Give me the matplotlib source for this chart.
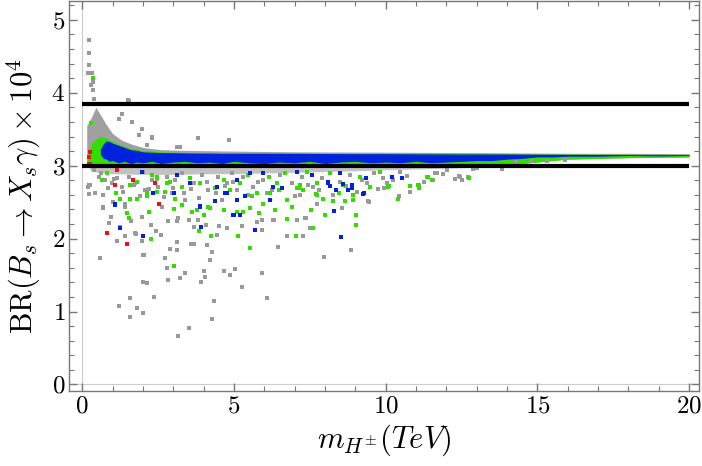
import numpy as np
import matplotlib
matplotlib.use('Agg')
import matplotlib.pyplot as plt

plt.rcParams['font.family'] = 'cmr10'
plt.rcParams['mathtext.fontset'] = 'cm'
plt.rcParams['axes.formatter.use_mathtext'] = True

# limits of BR(B_s -> X_s gamma) x 10^4
br_upper = 3.84
br_lower = 2.99

# dense band envelopes
band_x = [0.15, 0.3, 0.45, 0.6, 0.8, 1.0, 1.3, 1.6, 2.0, 2.6, 3.4, 5, 7, 10, 13, 14.5, 16, 18, 20]
gray_top = [3.55, 3.66, 3.80, 3.70, 3.56, 3.44, 3.35, 3.30, 3.25, 3.22, 3.21, 3.20, 3.19, 3.185, 3.18, 3.175, 3.17, 3.17, 3.165]
band_low = [3.0, 2.99, 2.99, 2.99, 2.99, 2.99, 2.99, 2.99, 2.99, 2.99, 2.99, 2.99, 2.99, 2.99, 3.0, 3.03, 3.09, 3.11, 3.12]
green_top = [3.05, 3.30, 3.36, 3.40, 3.38, 3.33, 3.28, 3.24, 3.21, 3.19, 3.18, 3.175, 3.17, 3.17, 3.165, 3.16, 3.16, 3.155, 3.155]

# blue band: top edge and ragged lower edge
blue_x = [0.6, 0.7, 0.8, 0.9, 1.0, 1.2, 1.4, 1.6, 1.8, 2.0, 2.3, 2.6, 3.0, 3.4, 3.8, 4.2, 4.6, 5.0, 5.5,
          6.0, 6.5, 7.0, 7.5, 8.0, 8.5, 9.0, 9.5, 10.0, 10.5, 11.0, 11.5, 12.0, 12.5, 13.0, 13.5, 14.0,
          14.5, 15.0, 15.5, 16.0, 17.0, 18.0, 19.0, 20.0]
blue_top = [3.22, 3.30, 3.34, 3.33, 3.31, 3.28, 3.25, 3.22, 3.21, 3.19, 3.185, 3.18, 3.178, 3.175, 3.173,
            3.172, 3.17, 3.17, 3.17, 3.17, 3.17, 3.17, 3.168, 3.167, 3.166, 3.165, 3.165, 3.165, 3.164,
            3.163, 3.162, 3.161, 3.16, 3.16, 3.16, 3.16, 3.158, 3.157, 3.156, 3.155, 3.153, 3.152, 3.151, 3.15]
blue_low = [3.16, 3.10, 3.09, 3.06, 3.07, 3.04, 3.06, 3.03, 3.05, 3.04, 3.06, 3.03, 3.05, 3.06, 3.04,
            3.05, 3.03, 3.06, 3.04, 3.03, 3.05, 3.04, 3.06, 3.03, 3.05, 3.06, 3.04, 3.05, 3.04, 3.06,
            3.04, 3.05, 3.06, 3.07, 3.07, 3.09, 3.10, 3.12, 3.12, 3.13, 3.13, 3.14, 3.135, 3.14]

strip_x = [0.25, 0.5, 1, 2, 3, 4, 5, 6, 7, 8, 9, 10, 11, 12, 13, 14]
strip_low = [2.94, 2.91, 2.89, 2.88, 2.88, 2.89, 2.89, 2.90, 2.91, 2.92, 2.93, 2.945, 2.955, 2.965, 2.98, 2.99]

# scattered points
gray_x = [0.58, 0.89, 1.20, 1.56, 1.59, 1.80, 1.99, 2.01, 2.12, 2.37, 1.99, 2.03, 1.14, 1.42, 1.76, 1.97,
          2.73, 2.79, 2.83, 2.89, 3.11, 3.12, 3.22, 3.38, 3.52, 3.17, 3.57, 3.68, 3.90, 4.02, 4.04, 4.10,
          4.21, 4.29, 4.29, 4.35, 4.67, 4.88, 5.03, 5.27, 5.93, 6.08, 6.46, 0.68, 1.03, 1.25, 1.61, 1.75,
          2.26, 2.42, 2.60, 2.83, 3.14, 3.51, 3.67, 3.80, 4.08, 4.44, 4.52, 4.77, 5.25, 5.75, 5.92, 6.32,
          6.74, 7.07, 1.42, 0.94, 0.70, 0.26, 0.40,
          7.97, 8.85, 7.27, 7.36, 8.56, 9.45, 9.93, 10.45, 10.80, 11.27, 11.63, 12.43, 12.51, 13.82, 7.18, 7.75,
          5.92, 6.30, 7.35, 7.51, 9.43, 10.04,
          0.23, 0.63, 0.76, 0.87, 0.98, 1.31, 1.53, 1.75, 2.02, 2.08, 2.30, 2.51, 2.79, 2.95, 3.06, 3.28,
          3.39, 3.67, 3.94, 4.16, 4.49, 4.77, 4.93, 4.60, 1.42, 2.62, 1.97, 3.17, 0.43, 1.14,
          4.98, 5.31, 5.64, 5.97, 6.25, 6.52, 6.91, 7.24, 7.62, 7.90, 8.50, 8.83, 9.21, 9.60, 9.92,
          0.21, 0.21, 0.21, 0.18, 0.32, 0.35, 0.29, 0.37, 0.40, 1.53, 1.31, 1.20, 1.64, 1.97, 2.30, 1.86,
          2.13, 3.12, 1.50, 2.30, 3.23, 4.85, 3.83,
          13.00, 12.89, 12.45, 12.72, 11.57, 11.68, 12.01, 10.47, 0.18, 0.24, 0.68,
          0.55, 0.85, 1.05, 1.35, 1.70, 1.90, 2.20, 2.45, 2.70, 3.00, 3.35, 3.60, 3.85, 4.10, 4.40, 4.70,
          5.10, 5.45, 5.80, 6.10, 6.60, 7.00, 7.45, 7.80, 8.25, 8.70, 9.05, 9.40, 9.75, 10.25, 10.70, 11.10,
          11.90, 12.30, 14.3, 14.8, 15.3, 15.9]
gray_y = [1.74, 2.21, 1.08, 1.19, 0.93, 1.05, 0.98, 1.40, 1.39, 1.20, 1.78, 1.77, 1.97, 2.03, 2.06, 1.97,
          1.73, 1.60, 1.43, 1.86, 1.95, 1.85, 1.46, 1.53, 0.78, 0.67, 1.92, 1.92, 1.40, 1.55, 1.47, 1.91,
          1.71, 1.81, 0.90, 1.14, 1.55, 1.50, 1.58, 1.33, 1.53, 1.19, 1.88, 2.42, 2.50, 2.16, 2.24, 2.07,
          2.19, 2.11, 2.05, 2.24, 2.24, 2.25, 2.16, 2.26, 2.18, 2.05, 2.17, 2.14, 2.17, 2.23, 2.12, 2.25,
          2.04, 2.26, 2.44, 2.30, 2.60, 2.74, 2.94,
          1.75, 1.84, 2.03, 2.28, 2.42, 2.50, 2.69, 2.59, 2.64, 2.77, 2.90, 2.86, 2.80, 2.95, 2.60, 2.48,
          2.25, 2.26, 2.28, 2.14, 2.51, 2.76,
          2.74, 2.90, 2.80, 2.21, 2.76, 2.71, 2.85, 2.76, 2.92, 2.67, 2.80, 2.71, 2.85, 2.62, 2.80, 2.90,
          2.53, 2.76, 2.87, 2.67, 2.85, 2.76, 2.90, 2.53, 2.48, 2.44, 2.30, 2.28, 2.62, 2.83,
          2.78, 2.85, 2.71, 2.80, 2.67, 2.87, 2.76, 2.85, 2.71, 2.83, 2.78, 2.87, 2.80, 2.90, 2.83,
          4.72, 4.55, 4.38, 4.27, 4.27, 4.15, 4.11, 4.04, 3.92, 3.89, 3.71, 3.64, 3.60, 3.51, 3.38, 3.42,
          3.28, 3.26, 3.90, 3.40, 3.26, 3.35, 3.38,
          2.97, 2.96, 2.85, 2.84, 2.80, 2.90, 2.94, 2.92, 2.71, 2.61, 2.44,
          2.84, 2.70, 2.82, 2.64, 2.73, 2.58, 2.68, 2.82, 2.57, 2.70, 2.62, 2.68, 2.56, 2.77, 2.63, 2.72,
          2.66, 2.60, 2.78, 2.62, 2.69, 2.58, 2.74, 2.66, 2.60, 2.72, 2.64, 2.76, 2.68, 2.80, 2.86, 2.74,
          2.88, 2.82, 3.05, 3.07, 3.06, 3.08]

green_x = [3.01, 2.28, 4.23, 5.12, 5.52, 7.04, 6.76, 3.85, 3.62, 3.01, 2.20, 1.47, 1.80, 1.12, 0.65, 2.13,
           2.46, 2.79, 3.28, 3.78, 4.00, 4.22, 4.66, 5.31, 5.61, 5.81, 6.19, 6.47, 6.91, 7.29, 1.58, 1.25,
           7.53, 8.00, 9.01, 7.60, 10.42, 8.28, 7.92, 8.65, 8.94, 8.46, 10.10, 10.80, 11.10, 11.08, 11.39,
           11.54, 12.75, 7.18, 7.71, 5.81, 5.53, 5.09, 5.97, 6.74, 7.13, 7.75, 8.66, 9.03, 6.36,
           0.65, 0.81, 1.11, 1.58, 1.80, 2.13, 2.46, 2.73, 2.90, 3.06, 3.28, 3.56, 3.89, 4.16, 4.38, 4.66,
           4.88, 1.53, 2.30,
           5.20, 5.48, 5.75, 6.14, 6.41, 6.69, 7.07, 7.40, 7.73, 8.17, 8.61, 8.94, 9.16, 9.49, 9.82, 10.09,
           0.35, 0.29, 11.35]
green_y = [1.63, 2.00, 2.04, 2.03, 1.87, 2.04, 2.27, 2.10, 2.36, 2.41, 2.37, 2.35, 2.55, 2.62, 2.80, 2.59,
           2.64, 2.76, 2.46, 2.39, 2.32, 2.42, 2.39, 2.36, 2.58, 2.35, 2.62, 2.67, 2.44, 2.67, 2.74, 2.55,
           2.39, 2.32, 2.18, 2.14, 2.54, 2.52, 2.55, 2.52, 2.53, 2.62, 2.72, 2.72, 2.70, 2.74, 2.84,
           2.80, 2.83, 2.74, 2.61, 2.35, 2.42, 2.37, 2.47, 2.53, 2.70, 2.60, 2.51, 2.32, 2.39,
           2.80, 2.90, 2.62, 2.55, 2.78, 2.62, 2.85, 2.64, 2.78, 2.55, 2.71, 2.83, 2.76, 2.44, 2.69, 2.80,
           2.67, 2.28, 2.87,
           2.76, 2.87, 2.62, 2.85, 2.76, 2.90, 2.69, 2.92, 2.76, 2.90, 2.74, 2.60, 2.85, 2.71, 2.92, 2.71,
           4.20, 3.59, 2.84]

blue_pts_x = [1.09, 1.25, 2.02, 3.91, 5.70, 4.98, 5.20, 4.77, 3.87, 3.01, 2.35, 4.44, 6.58, 6.19,
              8.54, 8.29, 9.26, 8.15, 8.37, 8.61, 8.90, 10.55, 10.22, 9.35, 5.01, 5.20, 5.09, 5.37, 6.58,
              8.37, 9.24, 8.77, 8.11, 1.09, 2.35, 3.01, 3.56, 3.89, 4.38, 4.71, 3.12, 1.97,
              5.10, 5.53, 5.97, 6.30, 7.07, 7.57, 8.11, 8.50, 8.88, 9.27]
blue_pts_y = [2.47, 2.15, 2.04, 2.16, 2.12, 2.32, 2.32, 2.62, 2.45, 2.62, 2.62, 2.71, 2.70, 2.53,
              2.02, 2.38, 2.61, 2.72, 2.67, 2.75, 2.74, 2.83, 2.84, 2.83, 2.32, 2.32, 2.53, 2.58, 2.70,
              2.67, 2.61, 2.67, 2.76, 2.46, 2.63, 2.62, 2.76, 2.44, 2.51, 2.62, 2.87, 2.92,
              2.80, 2.90, 2.90, 2.71, 2.92, 2.87, 2.78, 2.90, 2.69, 2.62]

red_x = [0.83, 1.47, 2.54, 1.09, 2.40, 1.14, 0.26, 1.69, 0.26, 0.21, 0.24]
red_y = [2.07, 1.93, 2.47, 2.74, 2.76, 2.94, 3.02, 2.81, 3.19, 3.12, 3.03]

fig = plt.figure(figsize=(7.02, 4.66), dpi=100)
ax = fig.add_axes([0.0989, 0.161, 0.8975, 0.837])

ax.axvline(0, color='#cccccc', lw=0.8, zorder=0)
ax.axhline(0, color='#cccccc', lw=0.8, zorder=0)

ax.fill_between(band_x, band_low, gray_top, color='#a0a0a0', lw=0, zorder=1)
ax.fill_between(strip_x, strip_low, br_lower, color='#c2c2c2', lw=0, zorder=1)
ax.fill_between(band_x, band_low, green_top, color='#33dd00', lw=0, zorder=2)
ax.fill_between(blue_x, blue_low, blue_top, color='#0022dd', lw=0, zorder=3)

ax.scatter(gray_x, gray_y, s=5, marker='s', color='#999999', lw=0, zorder=4)
ax.scatter(green_x, green_y, s=5, marker='s', color='#33dd00', lw=0, zorder=5)
ax.scatter(blue_pts_x, blue_pts_y, s=5, marker='s', color='#0022dd', lw=0, zorder=6)
ax.scatter(red_x, red_y, s=5, marker='s', color='#ee1111', lw=0, zorder=7)

ax.plot([0, 20], [br_upper, br_upper], color='black', lw=3, zorder=8, solid_capstyle='butt')
ax.plot([0, 20], [br_lower, br_lower], color='black', lw=3, zorder=8, solid_capstyle='butt')

ax.set_xlim(-0.42, 20.34)
ax.set_ylim(-0.09, 5.26)
ax.set_xticks([0, 5, 10, 15, 20])
ax.set_xticks(np.arange(0, 21, 1), minor=True)
ax.set_yticks([0, 1, 2, 3, 4, 5])
ax.set_yticks(np.arange(0, 5.21, 0.2), minor=True)

for sp in ax.spines.values():
    sp.set_color('#777777')
    sp.set_linewidth(1.0)
ax.tick_params(which='both', direction='in', top=True, right=True, color='#777777', labelsize=18, pad=3)
ax.tick_params(which='major', length=6, width=1.0)
ax.tick_params(which='minor', length=3.5, width=0.8)

ax.set_xlabel(r'$m_{H^{\pm}}(TeV)$', fontsize=22, labelpad=4)
ax.set_ylabel(r'$\mathrm{BR}(B_s \rightarrow X_s\gamma)\times 10^4$', fontsize=22, labelpad=6)

plt.savefig('out.png', dpi=100)
